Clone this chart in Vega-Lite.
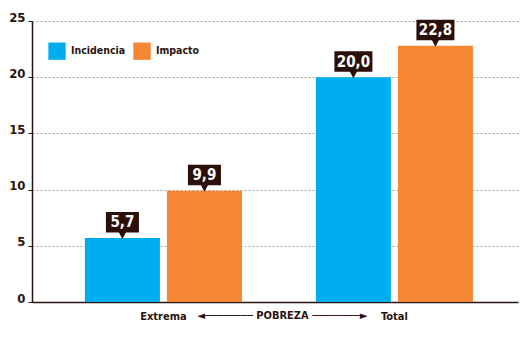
{
  "$schema": "https://vega.github.io/schema/vega-lite/v6.json",
  "autosize": {"type": "none"},
  "width": 486,
  "height": 281,
  "padding": {"left": 32, "top": 21, "right": 12, "bottom": 40},
  "background": "white",
  "data": {
    "values": [
      {"nivel": "Extrema", "tipo": "Incidencia", "valor": 5.7, "etiqueta": "5,7"},
      {"nivel": "Extrema", "tipo": "Impacto", "valor": 9.9, "etiqueta": "9,9"},
      {"nivel": "Total", "tipo": "Incidencia", "valor": 20.0, "etiqueta": "20,0"},
      {"nivel": "Total", "tipo": "Impacto", "valor": 22.8, "etiqueta": "22,8"}
    ]
  },
  "encoding": {
    "x": {
      "field": "nivel",
      "type": "nominal",
      "sort": ["Extrema", "Total"],
      "scale": {"paddingInner": 0.32, "paddingOuter": 0.212, "align": 0.54},
      "axis": {
        "title": "◄──────── POBREZA ────────►",
        "titleFont": "'DejaVu Sans Condensed', sans-serif",
        "titleFontSize": 11,
        "titleFontWeight": "bold",
        "titleColor": "#2a1410",
        "titlePadding": -12,
        "titleX": 250,
        "labelAngle": 0,
        "labelFont": "'DejaVu Sans Condensed', sans-serif",
        "labelFontSize": 11,
        "labelFontWeight": "bold",
        "labelColor": "#2a1410",
        "labelPadding": 8,
        "labelBaseline": "top",
        "ticks": false,
        "domainColor": "#2a1410",
        "domainWidth": 1.5
      }
    },
    "xOffset": {
      "field": "tipo",
      "type": "nominal",
      "sort": ["Incidencia", "Impacto"],
      "scale": {"paddingInner": 0.085, "paddingOuter": 0}
    },
    "y": {
      "field": "valor",
      "type": "quantitative",
      "scale": {"domain": [0, 25], "nice": false},
      "axis": {
        "title": null,
        "values": [0, 5, 10, 15, 20, 25],
        "labelFont": "'DejaVu Sans Condensed', sans-serif",
        "labelFontSize": 13,
        "labelFontWeight": "bold",
        "labelColor": "#2a1410",
        "labelBaseline": "alphabetic",
        "labelPadding": 3,
        "tickSize": 4,
        "tickColor": "#2a1410",
        "domainColor": "#2a1410",
        "domainWidth": 1.5,
        "grid": true,
        "gridColor": "#8c8c8c",
        "gridDash": [2, 2],
        "gridWidth": 0.8
      }
    }
  },
  "layer": [
    {
      "mark": {"type": "bar"},
      "encoding": {
        "color": {
          "field": "tipo",
          "type": "nominal",
          "scale": {"domain": ["Incidencia", "Impacto"], "range": ["#00AEEF", "#F58634"]},
          "legend": {
            "title": null,
            "orient": "none",
            "legendX": 16,
            "legendY": 21,
            "direction": "horizontal",
            "symbolType": "square",
            "symbolSize": 300,
            "symbolStrokeWidth": 0,
            "symbolOpacity": 1,
            "labelFont": "'DejaVu Sans Condensed', sans-serif",
            "labelFontSize": 10.5,
            "labelFontWeight": "bold",
            "labelColor": "#2a1410",
            "labelOffset": 5,
            "columnPadding": 7
          }
        }
      }
    },
    {
      "mark": {"type": "point", "filled": true, "opacity": 1, "color": "#2b0f0b", "size": 400},
      "encoding": {
        "shape": {
          "condition": {
            "test": "datum.valor < 10",
            "value": "M-1.65,-2.6L1.65,-2.6L1.65,-0.55L0.35,-0.55L0,0.1L-0.35,-0.55L-1.65,-0.55Z"
          },
          "value": "M-1.9,-2.6L1.9,-2.6L1.9,-0.55L0.35,-0.55L0,0.1L-0.35,-0.55L-1.9,-0.55Z"
        }
      }
    },
    {
      "mark": {
        "type": "text",
        "dy": -15.5,
        "baseline": "middle",
        "align": "center",
        "color": "white",
        "font": "'DejaVu Sans Condensed', sans-serif",
        "fontSize": 15,
        "fontWeight": "bold"
      },
      "encoding": {"text": {"field": "etiqueta"}}
    }
  ],
  "config": {"view": {"stroke": null}}
}
